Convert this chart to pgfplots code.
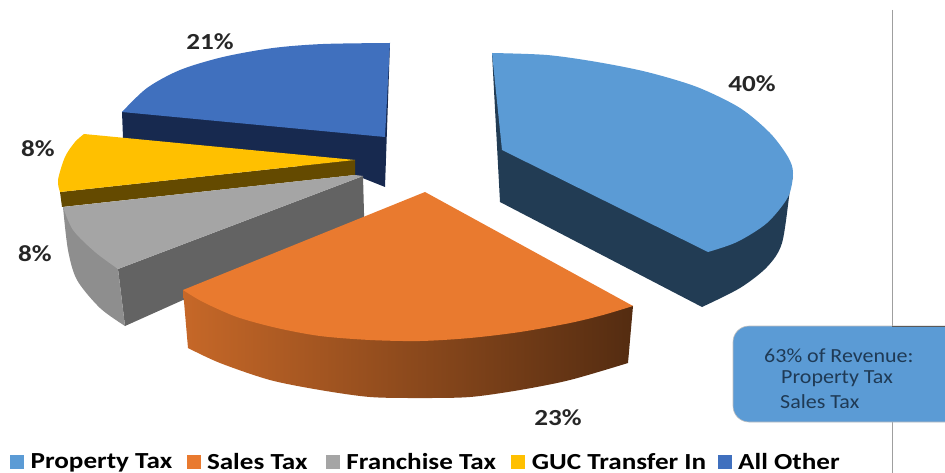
\documentclass[border=0pt]{standalone}
\usepackage{fontspec}
\setmainfont{Carlito}
\usepackage{pgfplots}
\pgfplotsset{compat=1.18}
\definecolor{cblue}{HTML}{5B9BD5}
\definecolor{cblued}{HTML}{223C54}
\definecolor{corange}{HTML}{E97A2F}
\definecolor{cgray}{HTML}{A5A5A5}
\definecolor{cgrayd}{HTML}{636363}
\definecolor{cgraym}{HTML}{8E8E8E}
\definecolor{cyellow}{HTML}{FFC000}
\definecolor{cyellowd}{HTML}{644A00}
\definecolor{cnavy}{HTML}{4070BE}
\definecolor{cnavyd}{HTML}{17294F}
\definecolor{boxtxt}{HTML}{1F3A55}
\newcommand{\lab}[1]{\scalebox{1.18}[1]{#1}}
\newcommand{\boxt}[1]{\scalebox{1.1}[1]{#1}}
\newcommand{\leg}[2]{\makebox[#1pt][l]{\hspace*{5pt}\scalebox{1.18}[1]{#2}}}
\begin{document}
\begin{tikzpicture}
\useasboundingbox (0,0) rectangle (945pt,473pt);
\begin{axis}[
  at={(0,0)}, anchor=south west,
  scale only axis, width=945pt, height=473pt,
  xmin=0, xmax=945, ymin=0, ymax=473, y dir=reverse,
  hide axis,
  legend cell align=left,
  legend columns=5,
  legend style={draw=none, fill=none, at={(axis cs:10,462)}, anchor=west,
    font=\bfseries\fontsize{23}{23}\selectfont, inner sep=0pt,
    /tikz/every even column/.append style={column sep=0pt}},
  legend image code/.code={\fill[#1] (0pt,-6pt) rectangle (13pt,7pt);},
]
% All Other
\addplot[fill=cnavyd, draw=none, forget plot] coordinates {(390,43)(385,187)(355,175)(123,138)(122,112)} -- cycle;
\addplot[fill=cnavy, draw=none, forget plot, smooth] coordinates {(122,112)(147,88)(180,70)(223,57)(273,48)(323,44)(390,43)} -- (axis cs:385,137) -- cycle;
% GUC
\addplot[fill=cyellowd, draw=none, forget plot] coordinates {(60,192)(355,160)(355,175)(62,207)} -- cycle;
\addplot[fill=cyellow, draw=none, forget plot, smooth] coordinates {(60,192)(58,180)(65,157)(75,142)(84,134)} -- (axis cs:355,160) -- cycle;
% Franchise
\addplot[fill=cgrayd, draw=none, forget plot] coordinates {(118,269)(363,176)(364,213)(364,300)(183,300)(125,326)} -- cycle;
\addplot[fill=cgraym, draw=none, forget plot, smooth] coordinates {(63,207)(68,250)(77,280)(100,308)(125,326)} -- (axis cs:118,269) -- cycle;
\addplot[fill=cgray, draw=none, forget plot, smooth] coordinates {(118,269)(95,252)(73,230)(63,207)} -- (axis cs:355,175) -- (axis cs:363,176) -- cycle;
% Sales
\addplot[left color=corange!85!black, right color=corange!36!black, draw=none, forget plot, smooth] coordinates {(188,348)(220,363)(270,380)(320,390)(370,397)(420,398)(470,397)(520,390)(570,380)(628,363)} -- (axis cs:633,306) -- (axis cs:420,300) -- (axis cs:183,290) -- cycle;
\addplot[fill=corange, draw=none, forget plot, smooth] coordinates {(633,306)(603,315)(570,323)(520,332)(470,338)(420,341)(370,340)(320,336)(277,328)(237,317)(203,302)(183,290)} -- (axis cs:425,192) -- cycle;
% Property
\addplot[fill=cblued, draw=none, forget plot, smooth] coordinates {(793,177)(790,190)(782,243)(767,267)(740,288)(702,307)} -- (axis cs:500,202) -- (axis cs:492,53) -- (axis cs:600,100) -- cycle;
\addplot[fill=cblue, draw=none, forget plot, smooth] coordinates {(492,53)(547,55)(597,62)(647,72)(697,87)(740,108)(770,133)(788,157)(793,173)(788,197)(767,223)(737,242)(708,252)} -- (axis cs:502,150) -- cycle;
% separator
\addplot[draw=gray!75, line width=0.8pt, forget plot] coordinates {(892,10)(892,473)};
% callout box
\addplot[fill=cblue, draw=black!25, line width=0.6pt, forget plot, rounded corners=16pt] coordinates {(970,326)(733,326)(733,422)(970,422)} -- cycle;
\addplot[draw=black!65, line width=0.6pt, forget plot] coordinates {(892,326)(945,326)};
% labels
\node[font=\bfseries\fontsize{23}{23}\selectfont, text=black!85] at (axis cs:752,84) {\lab{40\%}};
\node[font=\bfseries\fontsize{23}{23}\selectfont, text=black!85] at (axis cs:210,42) {\lab{21\%}};
\node[font=\bfseries\fontsize{23}{23}\selectfont, text=black!85] at (axis cs:38,149) {\lab{8\%}};
\node[font=\bfseries\fontsize{23}{23}\selectfont, text=black!85] at (axis cs:35,254) {\lab{8\%}};
\node[font=\bfseries\fontsize{23}{23}\selectfont, text=black!85] at (axis cs:558,418) {\lab{23\%}};
\node[font=\fontsize{20}{20}\selectfont, text=boxtxt, anchor=west, inner sep=0pt] at (axis cs:764,356) {\boxt{63\% of Revenue:}};
\node[font=\fontsize{20}{20}\selectfont, text=boxtxt, anchor=west, inner sep=0pt] at (axis cs:781,379) {\boxt{Property Tax}};
\node[font=\fontsize{20}{20}\selectfont, text=boxtxt, anchor=west, inner sep=0pt] at (axis cs:780,402) {\boxt{Sales Tax}};
% legend
\addlegendimage{cblue}\addlegendentry{\leg{159}{Property Tax}}
\addlegendimage{corange}\addlegendentry{\leg{122}{Sales Tax}}
\addlegendimage{cgray}\addlegendentry{\leg{168}{Franchise Tax}}
\addlegendimage{cyellow}\addlegendentry{\leg{189}{GUC Transfer In}}
\addlegendimage{cnavy}\addlegendentry{\leg{110}{All Other}}
\end{axis}
\end{tikzpicture}
\end{document}
